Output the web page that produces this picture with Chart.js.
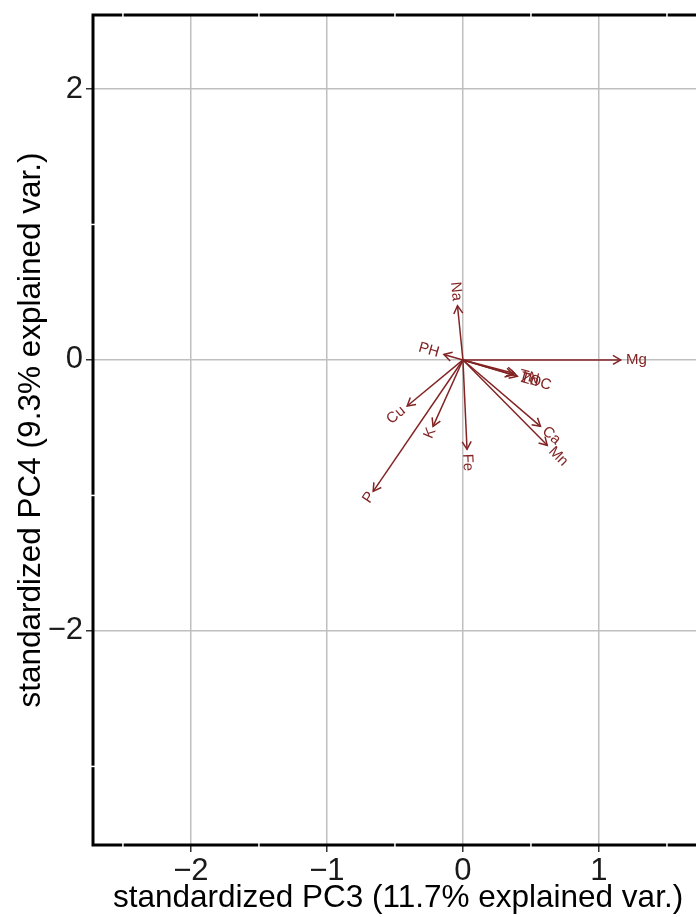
<!DOCTYPE html>
<html>
<head>
<meta charset="utf-8">
<script src="https://cdn.jsdelivr.net/npm/chart.js@4/dist/chart.umd.min.js"></script>
<style>
  html, body { margin: 0; padding: 0; background: #fff; overflow: hidden; }
</style>
</head>
<body>
<canvas id="biplot" width="720" height="917"></canvas>
<script>
// loadings (PC3 on x, PC4 on y)
const variables = ['Mg', 'Na', 'PH', 'Cu', 'K', 'P', 'Fe', 'Ca', 'Mn', 'TOC', 'TN', 'Zn'];
const pc3 = [1.16, -0.04, -0.14, -0.41, -0.22, -0.66, 0.03, 0.57, 0.62, 0.37, 0.38, 0.40];
const pc4 = [0.00, 0.40, 0.04, -0.34, -0.49, -0.97, -0.66, -0.49, -0.63, -0.11, -0.10, -0.12];

const xTicks = [-2, -1, 0, 1];
const yTicks = [-2, 0, 2];
const xMinor = [-2.5, -1.5, -0.5, 0.5, 1.5];
const yMinor = [-3, -1, 1];

const arrowColor = '#832424';
const fontFamily = '"Liberation Sans", Arial, sans-serif';

const fmt = v => (v < 0 ? '\u2212' + Math.abs(v) : String(v));

// frame around the panel, with the white minor grid cutting through it
const framePlugin = {
    id: 'frame',
    afterDraw: (chart) => {
        const { ctx, chartArea: a, scales } = chart;
        ctx.save();
        ctx.strokeStyle = '#000';
        ctx.lineWidth = 3;
        ctx.strokeRect(a.left, a.top, a.right - a.left, a.bottom - a.top);
        ctx.strokeStyle = '#fff';
        ctx.lineWidth = 1.5;
        xMinor.forEach(v => {
            const px = scales.x.getPixelForValue(v);
            ctx.beginPath();
            ctx.moveTo(px, a.bottom - 2); ctx.lineTo(px, a.bottom + 2);
            ctx.moveTo(px, a.top - 2); ctx.lineTo(px, a.top + 2);
            ctx.stroke();
        });
        yMinor.forEach(v => {
            const py = scales.y.getPixelForValue(v);
            ctx.beginPath();
            ctx.moveTo(a.left - 2, py); ctx.lineTo(a.left + 2, py);
            ctx.stroke();
        });
        ctx.restore();
    }
};

// arrow heads and rotated variable names
const arrowPlugin = {
    id: 'arrows',
    afterDatasetsDraw: (chart) => {
        const { ctx, scales: { x, y } } = chart;
        const x0 = x.getPixelForValue(0);
        const y0 = y.getPixelForValue(0);
        ctx.save();
        ctx.strokeStyle = arrowColor;
        ctx.fillStyle = arrowColor;
        ctx.lineWidth = 1.5;
        ctx.font = '15px ' + fontFamily;
        ctx.textBaseline = 'middle';
        variables.forEach((name, i) => {
            const px = x.getPixelForValue(pc3[i]);
            const py = y.getPixelForValue(pc4[i]);
            const ang = Math.atan2(py - y0, px - x0);
            const len = 9, spread = Math.PI / 6;
            ctx.beginPath();
            ctx.moveTo(px - len * Math.cos(ang - spread), py - len * Math.sin(ang - spread));
            ctx.lineTo(px, py);
            ctx.lineTo(px - len * Math.cos(ang + spread), py - len * Math.sin(ang + spread));
            ctx.stroke();

            const w = ctx.measureText(name).width;
            ctx.save();
            ctx.translate(px, py);
            ctx.rotate(-Math.atan(pc4[i] / pc3[i]));
            if (pc3[i] >= 0) {
                ctx.textAlign = 'left';
                ctx.fillText(name, 0.25 * w, 0);
            } else {
                ctx.textAlign = 'right';
                ctx.fillText(name, -0.25 * w, 0);
            }
            ctx.restore();
        });
        ctx.restore();
    }
};

const datasets = variables.map((name, i) => ({
    label: name,
    data: [{ x: 0, y: 0 }, { x: pc3[i], y: pc4[i] }],
    showLine: true,
    borderColor: arrowColor,
    borderWidth: 1.5,
    pointRadius: 0
}));

const gridStyle = {
    color: '#bfbfbf',
    lineWidth: 1.5,
    tickLength: 7,
    tickColor: '#333',
    tickWidth: 1.5
};

new Chart(document.getElementById('biplot'), {
    type: 'scatter',
    data: { datasets: datasets },
    options: {
        responsive: false,
        animation: false,
        layout: { padding: { top: 15, right: 17, left: 0, bottom: 0 } },
        plugins: {
            legend: { display: false },
            tooltip: { enabled: false }
        },
        scales: {
            x: {
                type: 'linear',
                min: -2.72,
                max: 1.765,
                afterBuildTicks: (s) => { s.ticks = xTicks.map(v => ({ value: v })); },
                afterFit: (s) => { s.height = 72; s.paddingLeft = 0; s.paddingRight = 0; },
                grid: gridStyle,
                border: { display: false },
                ticks: { font: { family: fontFamily, size: 31 }, color: '#1a1a1a', padding: 1, maxRotation: 0, callback: fmt },
                title: {
                    display: true,
                    text: 'standardized PC3 (11.7% explained var.)',
                    font: { family: fontFamily, size: 31.5 },
                    color: '#000',
                    padding: 0
                }
            },
            y: {
                type: 'linear',
                min: -3.58,
                max: 2.546,
                afterBuildTicks: (s) => { s.ticks = yTicks.map(v => ({ value: v })); },
                afterFit: (s) => { s.width = 93; s.paddingTop = 0; s.paddingBottom = 0; },
                grid: gridStyle,
                border: { display: false },
                ticks: { font: { family: fontFamily, size: 31 }, color: '#1a1a1a', padding: 3, callback: fmt },
                title: {
                    display: true,
                    text: 'standardized PC4 (9.3% explained var.)',
                    font: { family: fontFamily, size: 31.5 },
                    color: '#000',
                    padding: { top: 12, bottom: 0 }
                }
            }
        }
    },
    plugins: [arrowPlugin, framePlugin]
});
</script>
</body>
</html>
